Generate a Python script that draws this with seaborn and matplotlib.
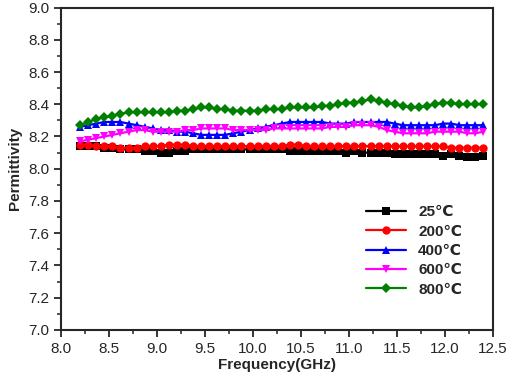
import numpy as np
import pandas as pd
import seaborn as sns
import matplotlib.pyplot as plt
from matplotlib.ticker import MultipleLocator

freq = [8.2, 8.284, 8.368, 8.452, 8.536, 8.62, 8.704, 8.788, 8.872, 8.956,
        9.04, 9.124, 9.208, 9.292, 9.376, 9.46, 9.544, 9.628, 9.712, 9.796,
        9.88, 9.964, 10.048, 10.132, 10.216, 10.3, 10.384, 10.468, 10.552, 10.636,
        10.72, 10.804, 10.888, 10.972, 11.056, 11.14, 11.224, 11.308, 11.392, 11.476,
        11.56, 11.644, 11.728, 11.812, 11.896, 11.98, 12.064, 12.148, 12.232, 12.316,
        12.4]

perm_25 = [8.14, 8.14, 8.14, 8.13, 8.13, 8.12, 8.12, 8.12, 8.11, 8.11,
           8.10, 8.10, 8.11, 8.11, 8.12, 8.12, 8.12, 8.12, 8.12, 8.12,
           8.12, 8.12, 8.12, 8.12, 8.12, 8.12, 8.11, 8.11, 8.11, 8.11,
           8.11, 8.11, 8.11, 8.10, 8.11, 8.10, 8.10, 8.10, 8.10, 8.09,
           8.09, 8.09, 8.09, 8.09, 8.09, 8.08, 8.09, 8.08, 8.07, 8.07,
           8.08]
perm_200 = [8.15, 8.15, 8.14, 8.14, 8.14, 8.13, 8.13, 8.13, 8.14, 8.14,
            8.14, 8.15, 8.15, 8.15, 8.14, 8.14, 8.14, 8.14, 8.14, 8.14,
            8.14, 8.14, 8.14, 8.14, 8.14, 8.14, 8.15, 8.15, 8.14, 8.14,
            8.14, 8.14, 8.14, 8.14, 8.14, 8.14, 8.14, 8.14, 8.14, 8.14,
            8.14, 8.14, 8.14, 8.14, 8.14, 8.14, 8.13, 8.13, 8.13, 8.13,
            8.13]
perm_400 = [8.26, 8.27, 8.28, 8.29, 8.29, 8.29, 8.28, 8.27, 8.26, 8.25,
            8.24, 8.24, 8.23, 8.23, 8.22, 8.21, 8.21, 8.21, 8.21, 8.22,
            8.23, 8.24, 8.25, 8.26, 8.27, 8.28, 8.29, 8.29, 8.29, 8.29,
            8.29, 8.28, 8.28, 8.28, 8.29, 8.29, 8.29, 8.29, 8.29, 8.28,
            8.27, 8.27, 8.27, 8.27, 8.27, 8.28, 8.28, 8.27, 8.27, 8.27,
            8.27]
perm_600 = [8.17, 8.18, 8.19, 8.20, 8.21, 8.22, 8.23, 8.24, 8.24, 8.23,
            8.23, 8.23, 8.23, 8.24, 8.24, 8.25, 8.25, 8.25, 8.25, 8.24,
            8.24, 8.24, 8.24, 8.24, 8.25, 8.25, 8.25, 8.25, 8.25, 8.25,
            8.25, 8.26, 8.26, 8.26, 8.27, 8.27, 8.27, 8.26, 8.24, 8.23,
            8.22, 8.22, 8.22, 8.22, 8.23, 8.23, 8.23, 8.23, 8.22, 8.22,
            8.23]
perm_800 = [8.27, 8.29, 8.31, 8.32, 8.33, 8.34, 8.35, 8.35, 8.35, 8.35,
            8.35, 8.35, 8.36, 8.36, 8.37, 8.38, 8.38, 8.37, 8.37, 8.36,
            8.36, 8.36, 8.36, 8.37, 8.37, 8.37, 8.38, 8.38, 8.38, 8.38,
            8.39, 8.39, 8.40, 8.41, 8.41, 8.42, 8.43, 8.42, 8.41, 8.40,
            8.39, 8.38, 8.38, 8.39, 8.40, 8.41, 8.41, 8.40, 8.40, 8.40,
            8.40]

labels = ['25℃', '200℃', '400℃', '600℃', '800℃']
series = [perm_25, perm_200, perm_400, perm_600, perm_800]
colors = ['#000000', '#ff0000', '#0000ff', '#ff00ff', '#008000']
markers = ['s', 'o', '^', 'v', 'D']

sns.set_style('ticks')
plt.rcParams['font.family'] = ['Liberation Sans', 'DejaVu Sans']

fig = plt.figure(figsize=(5.12, 3.8), dpi=100)
ax = fig.add_axes([0.119, 0.132, 0.844, 0.848])

for lab, vals, c, m in zip(labels, series, colors, markers):
    df = pd.DataFrame({'freq': freq, 'perm': vals})
    sns.lineplot(data=df, x='freq', y='perm', ax=ax, color=c, marker=m,
                 markersize=6 if m != 'D' else 5.5, markeredgewidth=0,
                 linewidth=1.6, label=lab)

ax.set_xlim(8.0, 12.5)
ax.set_ylim(7.0, 9.0)
ax.xaxis.set_major_locator(MultipleLocator(0.5))
ax.xaxis.set_minor_locator(MultipleLocator(0.25))
ax.yaxis.set_major_locator(MultipleLocator(0.2))
ax.yaxis.set_minor_locator(MultipleLocator(0.1))
ax.xaxis.set_major_formatter(plt.FormatStrFormatter('%.1f'))
ax.yaxis.set_major_formatter(plt.FormatStrFormatter('%.1f'))
ax.tick_params(which='major', direction='out', length=5, width=1.3, labelsize=11)
ax.tick_params(which='minor', direction='out', length=3, width=1.1)
for sp in ax.spines.values():
    sp.set_linewidth(1.5)

ax.set_xlabel('Frequency(GHz)', fontsize=11, fontweight='bold', labelpad=2)
ax.set_ylabel('Permittivity', fontsize=11, fontweight='bold', labelpad=4)

leg = ax.legend(loc='lower right', bbox_to_anchor=(0.96, 0.06), frameon=False,
                handlelength=2.6, labelspacing=0.35, prop={'weight': 'bold', 'size': 11})

fig.savefig('out.png', dpi=100)
